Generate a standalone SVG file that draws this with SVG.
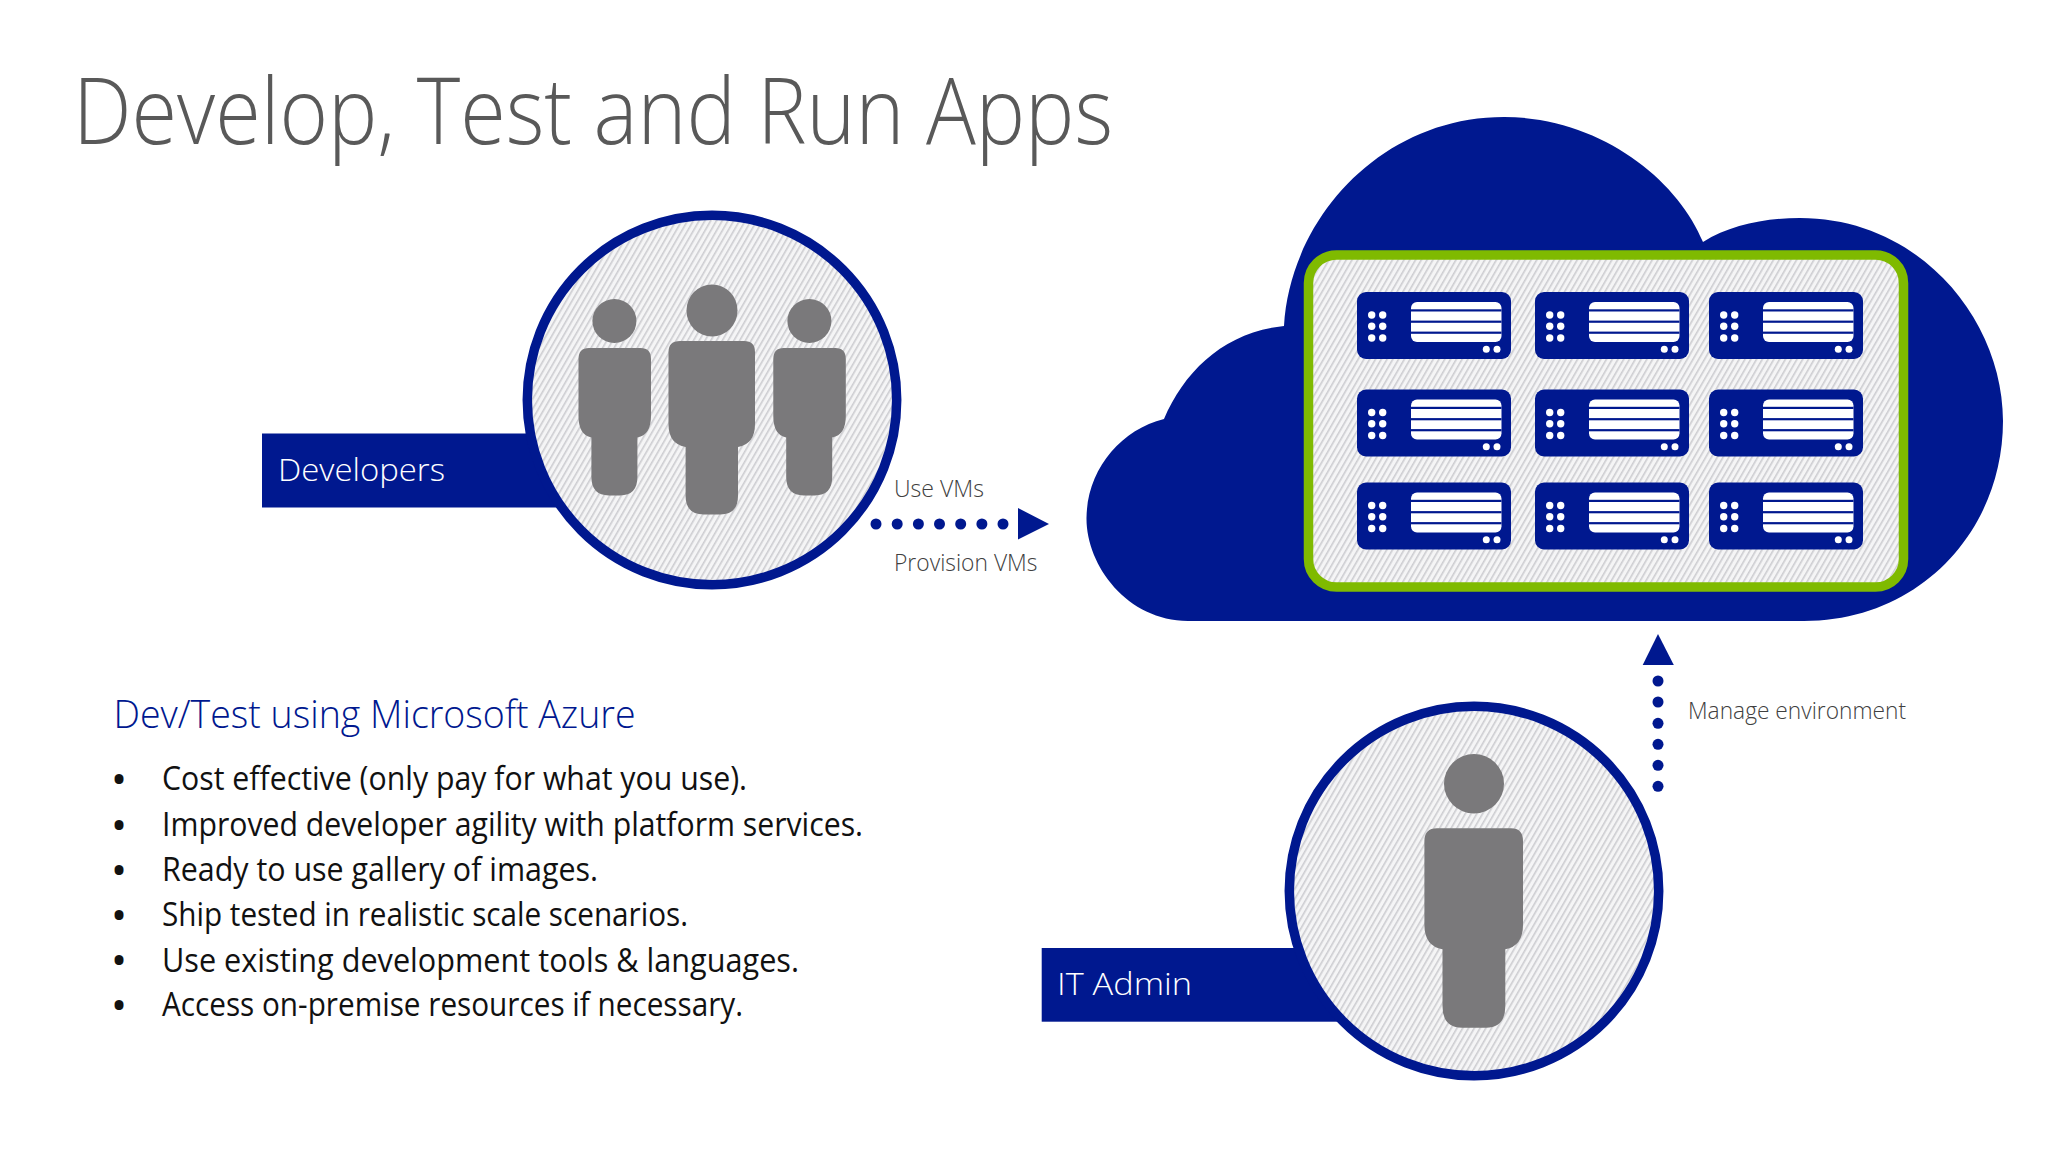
<svg xmlns="http://www.w3.org/2000/svg" xmlns:xlink="http://www.w3.org/1999/xlink" width="2048" height="1152" viewBox="0 0 2048 1152">
<style>
.navy{fill:#00188f}
.grey{fill:#7a797b}
.ring{fill:url(#hatch);stroke:#00188f;stroke-width:9.5}
.t{font-family:"Open Sans","Liberation Sans",sans-serif}
.title{font-size:93px;font-weight:300;fill:#595959}
.lbl{font-size:32px;font-weight:300;fill:#fff}
.cap{font-size:23.5px;font-weight:300;fill:#404040}
.head{font-size:39px;font-weight:300;fill:#00188f}
.body{font-size:32px;font-weight:400;fill:#111}
.bul{font-weight:700}
.dot{fill:#00188f}
.scr{fill:#fff}
</style>
<defs>
<pattern id="hatch" width="5" height="5" patternUnits="userSpaceOnUse" patternTransform="rotate(30)">
<rect width="5" height="5" fill="#f5f5f6"/>
<rect width="1.600" height="5" fill="#cdcdd1"/>
</pattern>
<g id="server">
<rect width="154" height="67" rx="9" class="navy"/>
<rect x="54" y="10" width="90.500" height="40" rx="6" class="scr"/>
<rect x="54" y="17.300" width="90.500" height="2.200" class="navy"/>
<rect x="54" y="28.600" width="90.500" height="2.200" class="navy"/>
<rect x="54" y="39.600" width="90.500" height="2.200" class="navy"/>
<g class="scr">
<circle cx="14.700" cy="23" r="3.700"/><circle cx="25.700" cy="23" r="3.700"/>
<circle cx="14.700" cy="34.300" r="3.700"/><circle cx="25.700" cy="34.300" r="3.700"/>
<circle cx="14.700" cy="46" r="3.700"/><circle cx="25.700" cy="46" r="3.700"/>
<circle cx="129.300" cy="57.300" r="3.500"/><circle cx="140" cy="57.300" r="3.500"/>
</g>
</g>
<path id="sidePerson" d="M589 348H640.500Q651 348 651 359V416Q651 435 637.400 437.500V477Q637.400 495.400 620 495.400H609Q591.400 495.400 591.400 477V437.500Q578.500 435 578.500 416V359Q578.500 348 589 348Z"/>
</defs>
<rect width="2048" height="1152" fill="#fff"/>
<text class="t title" x="73" y="144" textLength="1040" lengthAdjust="spacingAndGlyphs">Develop, Test and Run Apps</text>

<g id="cloud">
<path class="navy" d="M1188 621C1127 621 1086 565 1086.500 518C1087 470 1120 430 1164 419C1185 370 1225 332 1284 326C1290 220 1380 117 1504 117C1600 117 1678 180 1703 242C1730 225 1765 218 1800 218C1920 218 2003 320 2003 421C2003 530 1920 621 1804 621Z"/>
<rect x="1308.500" y="255" width="595" height="332" rx="28" fill="url(#hatch)" stroke="#7fba00" stroke-width="9.500"/>
<use xlink:href="#server" href="#server" x="1357" y="292"/>
<use xlink:href="#server" href="#server" x="1535" y="292"/>
<use xlink:href="#server" href="#server" x="1709" y="292"/>
<use xlink:href="#server" href="#server" x="1357" y="389.500"/>
<use xlink:href="#server" href="#server" x="1535" y="389.500"/>
<use xlink:href="#server" href="#server" x="1709" y="389.500"/>
<use xlink:href="#server" href="#server" x="1357" y="482.500"/>
<use xlink:href="#server" href="#server" x="1535" y="482.500"/>
<use xlink:href="#server" href="#server" x="1709" y="482.500"/>
</g>

<g id="developers">
<rect class="navy" x="262" y="433.500" width="300" height="74"/>
<circle class="ring" cx="712" cy="400" r="184.700"/>
<g class="grey">
<ellipse cx="614.400" cy="321" rx="22" ry="22"/>
<use xlink:href="#sidePerson" href="#sidePerson"/>
<ellipse cx="809.400" cy="321" rx="22" ry="22"/>
<use xlink:href="#sidePerson" href="#sidePerson" x="194.800"/>
<ellipse cx="712" cy="310.500" rx="25.500" ry="26"/>
<path d="M680 341H744Q755 341 755 352V424Q755 444 738 447V496Q738 514.500 720 514.500H704Q685.600 514.500 685.600 496V447Q668.500 444 668.500 424V352Q668.500 341 680 341Z"/>
</g>
<text class="t lbl" x="278" y="481" textLength="167" lengthAdjust="spacingAndGlyphs">Developers</text>
</g>

<g id="it-admin">
<rect class="navy" x="1041.700" y="948" width="300" height="73.700"/>
<circle class="ring" cx="1474" cy="891" r="184.700"/>
<g class="grey">
<ellipse cx="1474" cy="783.700" rx="30" ry="29.700"/>
<path d="M1437 828.300H1511Q1523 828.300 1523 841V925Q1523 946 1505.300 949.300V1006Q1505.300 1027.700 1486 1027.700H1462Q1442.500 1027.700 1442.500 1006V949.300Q1424.400 946 1424.400 925V841Q1424.400 828.300 1437 828.300Z"/>
</g>
<text class="t lbl" x="1057" y="995" textLength="135" lengthAdjust="spacingAndGlyphs">IT Admin</text>
</g>

<g id="connectors">
<g class="dot">
<circle cx="876" cy="524" r="5.500"/><circle cx="897.200" cy="524" r="5.500"/><circle cx="918.400" cy="524" r="5.500"/><circle cx="939.500" cy="524" r="5.500"/><circle cx="960.700" cy="524" r="5.500"/><circle cx="981.900" cy="524" r="5.500"/><circle cx="1003" cy="524" r="5.500"/>
<polygon points="1018,508 1049,524 1018,539.600"/>
<circle cx="1658" cy="681" r="5.500"/><circle cx="1658" cy="702" r="5.500"/><circle cx="1658" cy="723.300" r="5.500"/><circle cx="1658" cy="744.300" r="5.500"/><circle cx="1658" cy="765.300" r="5.500"/><circle cx="1658" cy="786.300" r="5.500"/>
<polygon points="1658,634 1673.800,665 1642.700,665"/>
</g>
<text class="t cap" x="894" y="496.500" textLength="90" lengthAdjust="spacingAndGlyphs">Use VMs</text>
<text class="t cap" x="894" y="570.500" textLength="143.500" lengthAdjust="spacingAndGlyphs">Provision VMs</text>
<text class="t cap" x="1688" y="719.300" textLength="218" lengthAdjust="spacingAndGlyphs">Manage environment</text>
</g>

<g id="notes">
<text class="t head" x="113.500" y="728" textLength="522" lengthAdjust="spacingAndGlyphs">Dev/Test using Microsoft Azure</text>
<g class="t body">
<text class="bul" x="113" y="791">•</text><text x="162" y="790" textLength="585" lengthAdjust="spacingAndGlyphs">Cost effective (only pay for what you use).</text>
<text class="bul" x="113" y="837">•</text><text x="162" y="836" textLength="701" lengthAdjust="spacingAndGlyphs">Improved developer agility with platform services.</text>
<text class="bul" x="113" y="882">•</text><text x="162" y="881" textLength="436" lengthAdjust="spacingAndGlyphs">Ready to use gallery of images.</text>
<text class="bul" x="113" y="927">•</text><text x="162" y="926" textLength="526" lengthAdjust="spacingAndGlyphs">Ship tested in realistic scale scenarios.</text>
<text class="bul" x="113" y="972">•</text><text x="162" y="971.500" textLength="637" lengthAdjust="spacingAndGlyphs">Use existing development tools &amp; languages.</text>
<text class="bul" x="113" y="1017">•</text><text x="162" y="1016" textLength="581" lengthAdjust="spacingAndGlyphs">Access on-premise resources if necessary.</text>
</g>
</g>
</svg>
